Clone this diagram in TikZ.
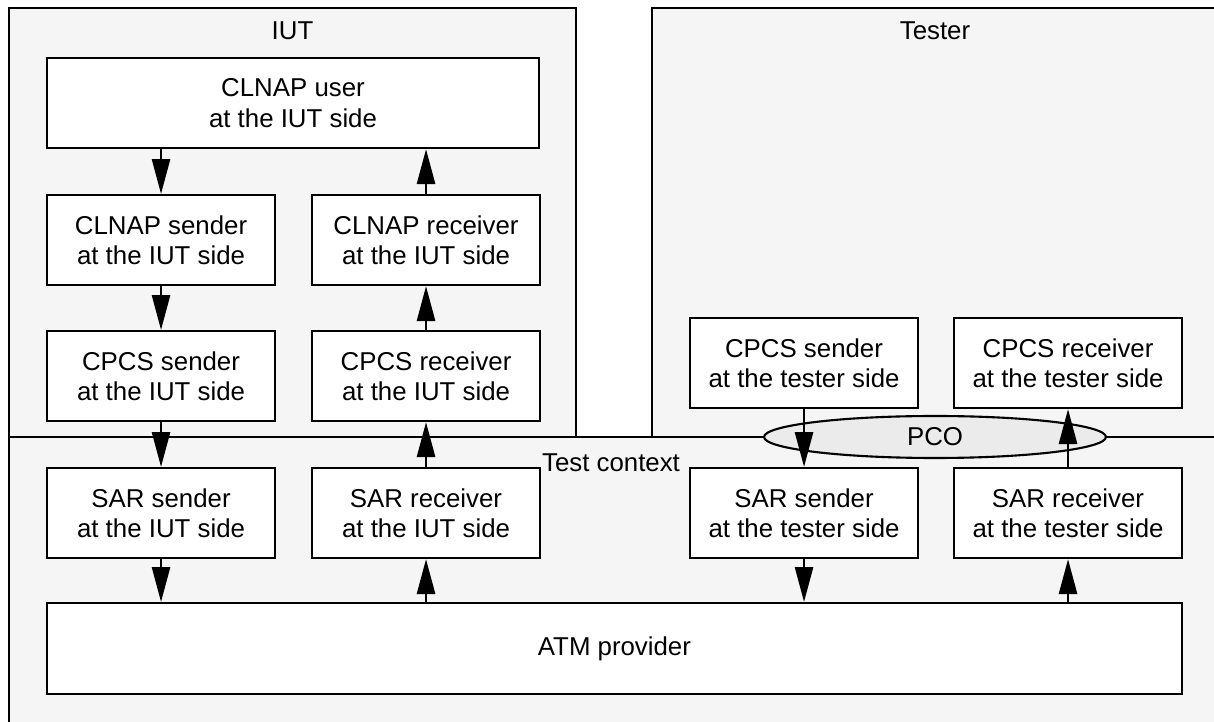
\documentclass[tikz,border=0pt]{standalone}
\usepackage{fontspec}
\setmainfont{Liberation Sans}
\usetikzlibrary{arrows.meta,shapes.geometric}
\definecolor{myframegray}{RGB}{245,245,245}
\definecolor{mypcogray}{RGB}{235,235,235}
\newcommand{\widthbox}{4.56cm}
\newcommand{\heightbox}{1.8cm}
\newcommand{\widthuser}{9.84cm}
\newcommand{\widthatm}{22.7cm}
\tikzset{
    common/.style={anchor=north west, draw, rectangle, line width=1.2pt, fill=white, align=center, inner sep=0pt, minimum height=\heightbox},
    box/.style={common, minimum width=\widthbox},
    userbox/.style={common, minimum width=\widthuser},
    atmbox/.style={common, minimum width=\widthatm, minimum height=1.82cm},
    frame/.style={draw, line width=1.2pt, fill=myframegray},
    pco/.style={draw, ellipse, line width=1.2pt, fill=mypcogray, inner sep=0pt, minimum width=6.84cm, minimum height=0.84cm},
    flow/.style={line width=1.6pt, -{Triangle[length=7mm, width=3.6mm]}}
}
\begin{document}
\begin{tikzpicture}[x=0.02cm, y=-0.02cm, font=\fontsize{14.7}{17.2}\selectfont]
    \useasboundingbox (0,0) rectangle (1214,722);
    \clip (0,0) rectangle (1214,722);

    % frames
    \draw[frame] (9,8) rectangle (576,437);
    \draw[frame] (652,8) rectangle (1218,437);
    \draw[frame] (9,437) rectangle (1240,760);
    \node (iut-title) at (292.5,31) {IUT};
    \node (tester-title) at (935,31) {Tester};
    \node (ctx-title) at (611,463) {Test context};

    % IUT side
    \node[userbox] (user) at (46,57) {CLNAP user\\at the IUT side};
    \path (46,194) node[box] (clnap-snd) {CLNAP sender\\at the IUT side}
        ++(265,0) node[box] (clnap-rcv) {CLNAP receiver\\at the IUT side};
    \path (46,330) node[box] (cpcs-snd) {CPCS sender\\at the IUT side}
        ++(265,0) node[box] (cpcs-rcv) {CPCS receiver\\at the IUT side};

    % tester side
    \path (689,317) node[box] (tcpcs-snd) {CPCS sender\\at the tester side}
        ++(264,0) node[box] (tcpcs-rcv) {CPCS receiver\\at the tester side};

    % test context
    \path (46,467) node[box] (sar-snd) {SAR sender\\at the IUT side}
        ++(265,0) node[box] (sar-rcv) {SAR receiver\\at the IUT side}
        ++(378,0) node[box] (tsar-snd) {SAR sender\\at the tester side}
        ++(264,0) node[box] (tsar-rcv) {SAR receiver\\at the tester side};
    \node[atmbox] (atm) at (46,602) {ATM provider};
    \node[pco] (pco) at (935,437) {PCO};

    % flows
    \draw[flow] (clnap-snd.north |- user.south) -- (clnap-snd.north);
    \draw[flow] (clnap-rcv.north) -- (clnap-rcv.north |- user.south);
    \draw[flow] (clnap-snd) -- (cpcs-snd);
    \draw[flow] (cpcs-rcv) -- (clnap-rcv);
    \draw[flow] (cpcs-snd) -- (sar-snd);
    \draw[flow] (sar-rcv) -- (cpcs-rcv);
    \draw[flow] (tcpcs-snd) -- (tsar-snd);
    \draw[flow] (tsar-rcv) -- (tcpcs-rcv);
    \draw[flow] (sar-snd.south) -- (sar-snd.south |- atm.north);
    \draw[flow] (sar-rcv.south |- atm.north) -- (sar-rcv.south);
    \draw[flow] (tsar-snd.south) -- (tsar-snd.south |- atm.north);
    \draw[flow] (tsar-rcv.south |- atm.north) -- (tsar-rcv.south);
\end{tikzpicture}
\end{document}
